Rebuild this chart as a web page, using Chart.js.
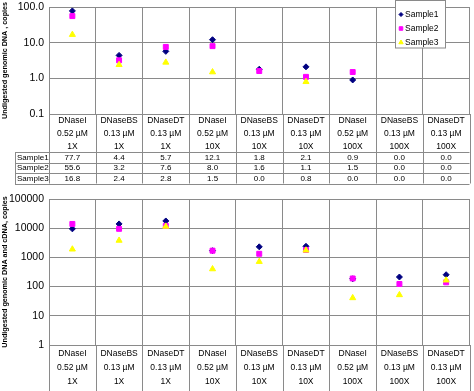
<!DOCTYPE html>
<html>
<head>
<meta charset="utf-8">
<script src="https://cdn.jsdelivr.net/npm/chart.js@4/dist/chart.umd.min.js"></script>
<style>
  body { margin: 0; background: #fff; }
  #wrap { position: relative; width: 474px; height: 391px; }
  canvas { position: absolute; left: 0; }
  #topChart { top: 0; }
  #bottomChart { top: 186px; }
</style>
</head>
<body>
<div id="wrap">
  <canvas id="topChart" width="474" height="186"></canvas>
  <canvas id="bottomChart" width="474" height="205"></canvas>
</div>
<script>
// categories (3 label lines)
const enzymes = ['DNaseI', 'DNaseBS', 'DNaseDT', 'DNaseI', 'DNaseBS', 'DNaseDT', 'DNaseI', 'DNaseBS', 'DNaseDT'];
const concentrations = ['0.52 µM', '0.13 µM', '0.13 µM', '0.52 µM', '0.13 µM', '0.13 µM', '0.52 µM', '0.13 µM', '0.13 µM'];
const dilutions = ['1X', '1X', '1X', '10X', '10X', '10X', '100X', '100X', '100X'];
const sampleNames = ['Sample1', 'Sample2', 'Sample3'];

// top panel: undigested genomic DNA (values from the table)
const genomic1 = [77.7, 4.4, 5.7, 12.1, 1.8, 2.1, 0.9, 0.0, 0.0];
const genomic2 = [55.6, 3.2, 7.6, 8.0, 1.6, 1.1, 1.5, 0.0, 0.0];
const genomic3 = [16.8, 2.4, 2.8, 1.5, 0.0, 0.8, 0.0, 0.0, 0.0];

// bottom panel: undigested genomic DNA and cDNA
const total1 = [9500, 14000, 17700, 1700, 2300, 2400, 185, 213, 255];
const total2 = [14000, 9500, 12000, 1700, 1330, 1800, 190, 123, 140];
const total3 = [1900, 3800, 11500, 400, 715, 1750, 41, 52, 165];

const topTicks = [0.1, 1, 10, 100];
const bottomTicks = [1, 10, 100, 1000, 10000, 100000];

const colors = ['#000080', '#FF00FF', '#FFFF00'];
const shapes = ['rectRot', 'rect', 'triangle'];
const radii = [3, 3.5, 3.5];
const gridColor = '#8a8a8a';
const family = '"Liberation Sans", Arial, sans-serif';

const labels = enzymes.map((e, i) => [e, concentrations[i], dilutions[i]]);

function makeDatasets(series) {
    return series.map((vals, i) => ({
        label: sampleNames[i],
        // zeros can't be shown on a log axis
        data: vals.map(v => v > 0 ? v : null),
        showLine: false,
        pointStyle: shapes[i],
        pointRadius: radii[i],
        pointHoverRadius: radii[i],
        pointBackgroundColor: colors[i],
        pointBorderColor: colors[i],
        pointBorderWidth: 1,
        backgroundColor: colors[i],
        borderColor: colors[i],
        order: 3 - i
    }));
}

function makeScales(ticks, fmt, title, lineH, pad) {
    return {
        x: {
            offset: true,
            grid: { offset: true, color: gridColor, drawTicks: false },
            border: { color: gridColor },
            ticks: {
                autoSkip: false, maxRotation: 0, minRotation: 0, padding: pad,
                color: '#000', font: { family: family, size: 8.5, lineHeight: lineH }
            }
        },
        y: {
            type: 'logarithmic',
            min: ticks[0],
            max: ticks[ticks.length - 1],
            afterBuildTicks: s => { s.ticks = ticks.map(v => ({ value: v })); },
            afterFit: s => { s.width = 49; s.paddingTop = 0; s.paddingBottom = 0; },
            grid: { color: gridColor, drawTicks: false },
            border: { color: gridColor },
            ticks: { callback: fmt, padding: 5, color: '#000', font: { family: family, size: 10.5 } },
            title: {
                display: true, text: title, color: '#000', padding: { top: 1, bottom: 0 },
                font: { family: family, size: 7.2, weight: 'bold' }
            }
        }
    };
}

// vertical separators running down through the category labels
function separators(chart, bottom) {
    const ctx = chart.ctx, area = chart.chartArea;
    const step = area.width / enzymes.length;
    ctx.save();
    ctx.strokeStyle = gridColor;
    ctx.lineWidth = 1;
    for (let i = 0; i <= enzymes.length; i++) {
        const x = Math.round(area.left + i * step) + 0.5;
        ctx.beginPath();
        ctx.moveTo(x, area.bottom);
        ctx.lineTo(x, bottom);
        ctx.stroke();
    }
    ctx.restore();
}

const tablePlugin = {
    id: 'dataTable',
    afterDraw(chart) {
        const ctx = chart.ctx, area = chart.chartArea;
        const xs = chart.scales.x;
        const rowH = 10.5;
        const top = xs.bottom - 1;
        const rows = [genomic1, genomic2, genomic3];
        const bottom = top + rows.length * rowH;
        const labelLeft = 15;
        separators(chart, bottom);
        ctx.save();
        ctx.strokeStyle = gridColor;
        ctx.lineWidth = 1;
        for (let r = 0; r <= rows.length; r++) {
            const y = Math.round(top + r * rowH) + 0.5;
            ctx.beginPath();
            ctx.moveTo(labelLeft, y);
            ctx.lineTo(area.right, y);
            ctx.stroke();
        }
        ctx.beginPath();
        ctx.moveTo(labelLeft + 0.5, Math.round(top) + 0.5);
        ctx.lineTo(labelLeft + 0.5, Math.round(bottom) + 0.5);
        ctx.stroke();
        ctx.fillStyle = '#000';
        ctx.font = '8px ' + family;
        ctx.textBaseline = 'middle';
        rows.forEach((vals, r) => {
            const y = top + r * rowH + rowH / 2 + 0.5;
            ctx.textAlign = 'left';
            ctx.fillText(sampleNames[r], labelLeft + 2, y);
            ctx.textAlign = 'center';
            vals.forEach((v, i) => ctx.fillText(v.toFixed(1), xs.getPixelForValue(i), y));
        });
        ctx.restore();
    }
};

const legendPlugin = {
    id: 'boxLegend',
    afterDraw(chart) {
        const ctx = chart.ctx;
        const box = { left: 395.5, top: 0.5, width: 50, height: 47.5 };
        ctx.save();
        ctx.fillStyle = '#fff';
        ctx.fillRect(box.left, box.top, box.width, box.height);
        ctx.strokeStyle = '#8a8a8a';
        ctx.lineWidth = 1;
        ctx.strokeRect(box.left, box.top, box.width, box.height);
        ctx.font = '8.5px ' + family;
        ctx.textAlign = 'left';
        ctx.textBaseline = 'middle';
        sampleNames.forEach((name, i) => {
            const y = box.top + 14 + i * 14;
            const style = { pointStyle: shapes[i], radius: radii[i] - 1, rotation: 0, borderWidth: 1 };
            ctx.fillStyle = colors[i];
            ctx.strokeStyle = colors[i];
            if (Chart.helpers && Chart.helpers.drawPoint) {
                Chart.helpers.drawPoint(ctx, style, box.left + 5.5, y);
            } else {
                ctx.fillRect(box.left + 3.5, y - 2, 4, 4);
            }
            ctx.fillStyle = '#000';
            ctx.fillText(name, box.left + 9.5, y);
        });
        ctx.restore();
    }
};

const bottomSepPlugin = {
    id: 'bottomSeparators',
    afterDraw(chart) { separators(chart, chart.height); }
};

const common = {
    responsive: false,
    animation: false,
    events: [],
    plugins: { legend: { display: false }, tooltip: { enabled: false } }
};

new Chart(document.getElementById('topChart').getContext('2d'), {
    type: 'line',
    data: { labels: labels, datasets: makeDatasets([genomic1, genomic2, genomic3]) },
    options: Object.assign({}, common, {
        layout: { padding: { top: 7, right: 2, bottom: 33, left: 0 } },
        scales: makeScales(topTicks, v => Number(v).toFixed(1), 'Undigested genomic DNA , copies', '13px', 0)
    }),
    plugins: [tablePlugin, legendPlugin]
});

new Chart(document.getElementById('bottomChart').getContext('2d'), {
    type: 'line',
    data: { labels: labels, datasets: makeDatasets([total1, total2, total3]) },
    options: Object.assign({}, common, {
        layout: { padding: { top: 13, right: 2, bottom: 0, left: 0 } },
        scales: makeScales(bottomTicks, v => String(Number(v)), 'Undigested genomic DNA and cDNA, copies', '14px', 2)
    }),
    plugins: [bottomSepPlugin]
});
</script>
</body>
</html>
